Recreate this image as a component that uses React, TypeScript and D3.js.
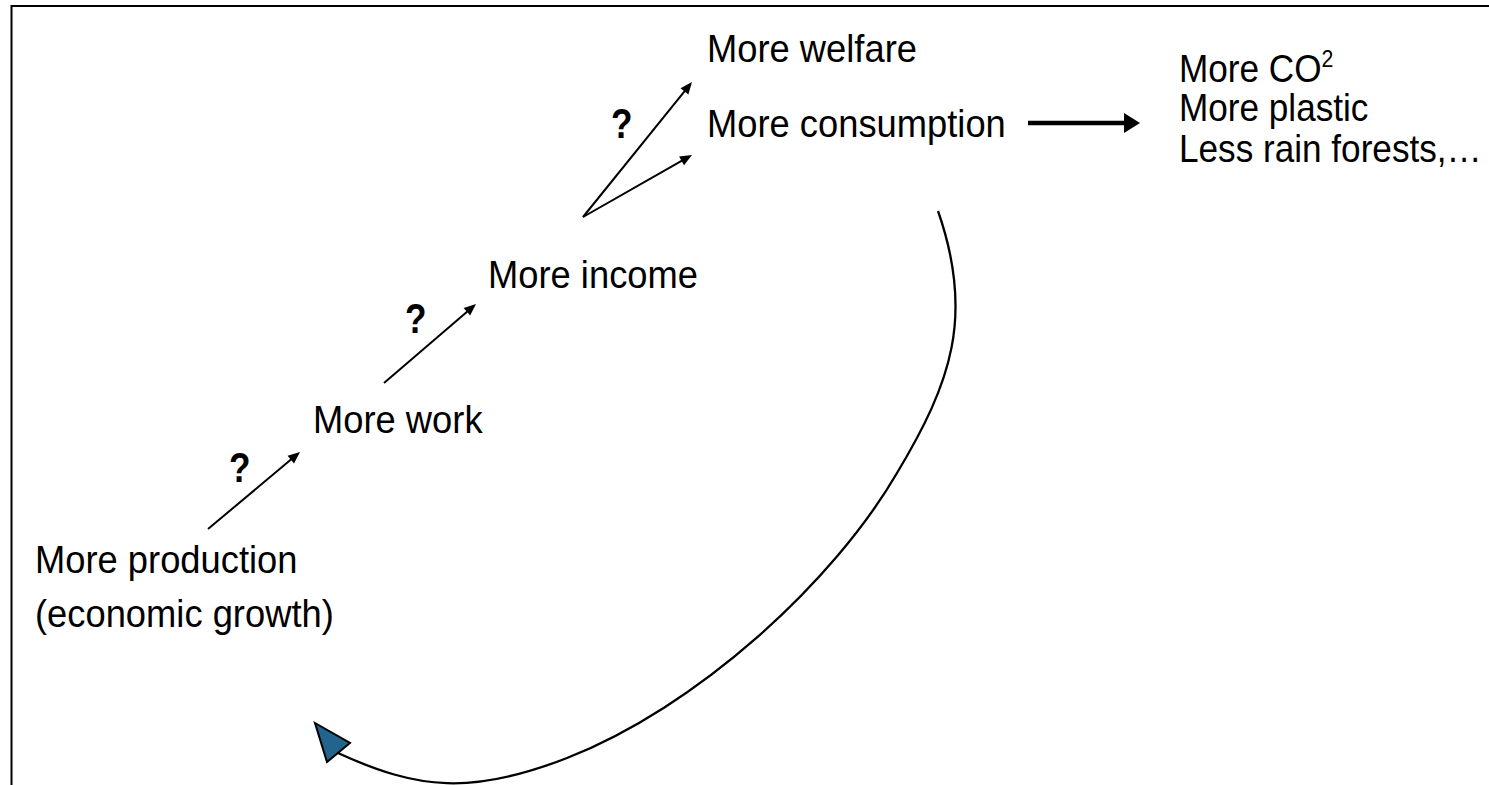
import * as d3 from 'd3';

const width = 1489;
const height = 785;

// text blocks of the diagram
const blockLines = [
  ['More production', '(economic growth)'],
  ['More work'],
  ['More income'],
  ['More welfare'],
  ['More consumption'],
  ['More plastic', 'Less rain forests,…'],
];
// where each block sits: left x, first baseline, line height, horizontal squeeze
const blockPos = [
  [35, 573, 54, 0.92],
  [313, 433, 40, 0.92],
  [488, 288, 40, 0.92],
  [707, 62, 40, 0.92],
  [707, 137, 40, 0.92],
  [1179, 121, 41, 0.89],
];

// the "?" marks next to the arrows
const questionPos = [
  [229, 482],
  [405, 333],
  [611, 138],
];

// thin arrows: [x1, y1, x2 (tip), y2 (tip)]
const thinArrows = [
  [208, 529, 300, 452],
  [384, 383, 476, 304],
  [583, 217, 692, 82],
  [583, 217, 692, 155],
];

// feedback loop: start point, then cubic segments [c1x, c1y, c2x, c2y, x, y]
const loopStart = [938, 211];
const loopSegments = [
  [974.75, 316, 951, 383, 897, 473],
  [833, 583, 697, 707, 567, 758],
  [472, 795, 418, 789.8, 338, 753],
];
const loopHead: [number, number][] = [[315, 723], [350, 743], [327, 762]];

const FONT = 'Liberation Sans, Arial, sans-serif';
const SIZE = 39.5;

function shorten(x1: number, y1: number, x2: number, y2: number, d: number) {
  const len = Math.hypot(x2 - x1, y2 - y1);
  return [x2 - ((x2 - x1) / len) * d, y2 - ((y2 - y1) / len) * d];
}

function Arrow({ a, len, half, sw }: { a: number[]; len: number; half: number; sw: number }) {
  const [x1, y1, x2, y2] = a;
  const [bx, by] = shorten(x1, y1, x2, y2, len - 1);
  const ang = Math.atan2(y2 - y1, x2 - x1);
  const px = -Math.sin(ang) * half;
  const py = Math.cos(ang) * half;
  const [hx, hy] = shorten(x1, y1, x2, y2, len);
  return (
    <g>
      <line x1={x1} y1={y1} x2={bx} y2={by} stroke="#000" strokeWidth={sw} />
      <path d={`M${x2},${y2}L${hx + px},${hy + py}L${hx - px},${hy - py}Z`} fill="#000" />
    </g>
  );
}

export default function App() {
  const p = d3.path();
  p.moveTo(loopStart[0], loopStart[1]);
  loopSegments.forEach(s => p.bezierCurveTo(s[0], s[1], s[2], s[3], s[4], s[5]));
  const loopPath = p.toString();
  const headPath = d3.line()(loopHead) + 'Z';

  return (
    <svg
      width={width}
      height={height}
      style={{ position: 'absolute', left: 0, top: 0, display: 'block', background: '#fff' }}
      fontFamily={FONT}
    >
      <rect x={11.5} y={6} width={1600} height={900} fill="#fff" stroke="#000" strokeWidth={2} />

      {blockLines.map((lines, i) => {
        const [x, y, lh, sx] = blockPos[i];
        return (
          <g key={i} transform={`translate(${x},${y}) scale(${sx},1)`}>
            {lines.map((t, j) => (
              <text key={j} x={0} y={j * lh} fontSize={SIZE} fill="#000">{t}</text>
            ))}
          </g>
        );
      })}

      <g transform={`translate(1179,82) scale(0.89,1)`}>
        <text x={0} y={0} fontSize={SIZE} fill="#000">
          More CO<tspan style={{ fontSize: '24px' }} dy={-15}>2</tspan>
        </text>
      </g>

      {questionPos.map(([x, y], i) => (
        <g key={i} transform={`translate(${x},${y}) scale(0.88,1.08)`}>
          <text x={0} y={0} fontSize={40} fontWeight="bold" fill="#000">?</text>
        </g>
      ))}

      {thinArrows.map((a, i) => (
        <Arrow key={i} a={a} len={12} half={5} sw={2} />
      ))}
      <Arrow a={[1028, 123, 1140, 123]} len={16} half={10} sw={4.5} />

      <path d={loopPath} fill="none" stroke="#000" strokeWidth={2.3} />
      <path d={headPath} fill="#21648d" stroke="#000" strokeWidth={2} strokeLinejoin="miter" />
    </svg>
  );
}
